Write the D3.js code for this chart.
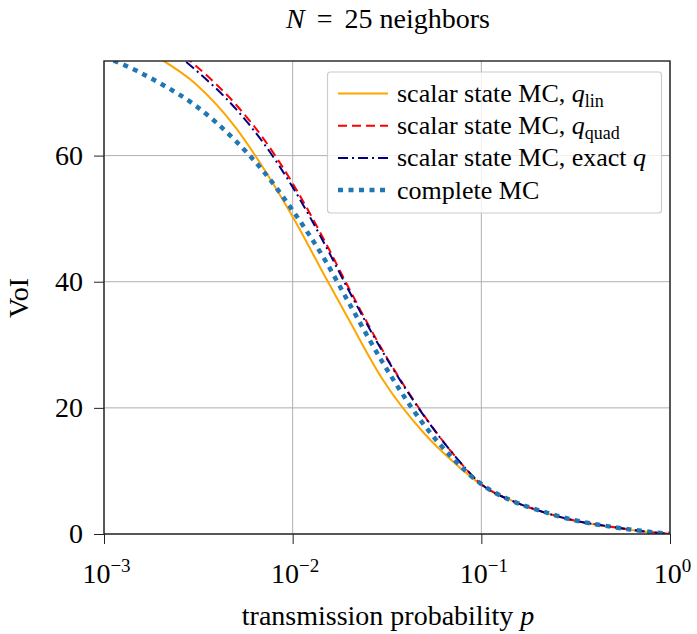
<!DOCTYPE html>
<meta charset="utf-8">
<body style="margin:0;background:#fff">
<div id="div-svg"></div>
<style>
  text { font-family: "Liberation Serif", "Times New Roman", serif; fill: #000; }
  .axis path, .axis line { stroke: #222; }
</style>
<script src="https://cdn.jsdelivr.net/npm/d3@7"></script>
<script>
    var width = 697;
    var height = 634;
    var margin = {left: 104, right: 27, top: 61, bottom: 100};

    // transmission probability p (log axis)
    var pValues = [0.001, 0.0015, 0.002, 0.003, 0.005, 0.007, 0.01, 0.015, 0.02, 0.03,
                   0.05, 0.07, 0.1, 0.15, 0.2, 0.3, 0.5, 0.7, 1.0];
    // VoI
    var voiLin      = [80, 77.5, 75.3, 71.6, 64.4, 58.0, 50.3, 40.6, 33.8, 24.5, 15.9, 11.6, 7.8, 5.1, 3.7, 2.2, 1.05, 0.45, 0];
    var voiQuad     = [84.5, 81.3, 78.7, 74.5, 68.1, 62.7, 55.6, 46.1, 38.8, 29.1, 18.7, 12.9, 7.9, 5.1, 3.75, 2.25, 1.1, 0.47, 0];
    var voiExact    = [83.8, 80.6, 78.0, 73.8, 67.4, 62.0, 55.0, 45.6, 38.4, 28.9, 18.6, 12.9, 7.9, 5.1, 3.75, 2.25, 1.1, 0.47, 0];
    var voiComplete = [75.7, 73.4, 71.4, 68.1, 62.3, 57.5, 51.3, 43.2, 36.5, 27.2, 17.2, 12.1, 7.9, 5.1, 3.8, 2.3, 1.1, 0.5, 0];

    var xTicks = [1e-3, 1e-2, 1e-1, 1];
    var xExponents = ["\u22123", "\u22122", "\u22121", "0"];
    var yTicks = [0, 20, 40, 60];

    var series = [
      {name: "scalar state MC, ", q: "q", sub: "lin", values: voiLin, color: "#ffa500", w: 2, dash: null},
      {name: "scalar state MC, ", q: "q", sub: "quad", values: voiQuad, color: "#ff0000", w: 2, dash: "9,5"},
      {name: "scalar state MC, exact ", q: "q", sub: "", values: voiExact, color: "#000080", w: 2, dash: "10,4,2,4"},
      {name: "complete MC", q: "", sub: "", values: voiComplete, color: "#1f77b4", w: 4.5, dash: "5,5.5"}
    ];

    var svg = d3.select("#div-svg").append("svg")
        .attr("width", width)
        .attr("height", height);

    var x = d3.scaleLog().domain([1e-3, 1]).range([margin.left, width - margin.right]);
    var y = d3.scaleLinear().domain([0, 75]).range([height - margin.bottom, margin.top]);

    // grid
    svg.append("g").selectAll("line").data(xTicks).enter().append("line")
      .attr("x1", function(d){return x(d);}).attr("x2", function(d){return x(d);})
      .attr("y1", y(0)).attr("y2", y(75))
      .attr("stroke", "#b0b0b0").attr("stroke-width", 1);
    svg.append("g").selectAll("line").data(yTicks).enter().append("line")
      .attr("y1", function(d){return y(d);}).attr("y2", function(d){return y(d);})
      .attr("x1", x(1e-3)).attr("x2", x(1))
      .attr("stroke", "#b0b0b0").attr("stroke-width", 1);

    svg.append("clipPath").attr("id", "clip").append("rect")
      .attr("x", x(1e-3)).attr("y", y(75))
      .attr("width", x(1) - x(1e-3)).attr("height", y(0) - y(75));

    var line = d3.line()
      .x(function(d){return x(d[0]);})
      .y(function(d){return y(d[1]);})
      .curve(d3.curveMonotoneX);

    svg.append("g").attr("clip-path", "url(#clip)")
      .selectAll("path").data(series).enter().append("path")
      .attr("d", function(s){return line(pValues.map(function(p, i){return [p, s.values[i]];}));})
      .attr("fill", "none")
      .attr("stroke", function(s){return s.color;})
      .attr("stroke-width", function(s){return s.w;})
      .attr("stroke-dasharray", function(s){return s.dash;});

    // axes
    var xAxis = svg.append("g").attr("class", "axis")
      .attr("transform", "translate(0," + y(0) + ")")
      .call(d3.axisBottom(x).tickValues(xTicks).tickSize(10).tickSizeOuter(0).tickFormat(""));
    xAxis.select(".domain").remove();
    xAxis.selectAll(".tick").each(function(d, i) {
      var t = d3.select(this).append("text")
        .attr("y", 49).attr("text-anchor", "middle")
        .style("font-size", "28px").attr("dx", "2");
      t.append("tspan").text("10");
      t.append("tspan").attr("dy", -11).style("font-size", "19px").text(xExponents[i]);
    });

    var yAxis = svg.append("g").attr("class", "axis")
      .attr("transform", "translate(" + x(1e-3) + ",0)")
      .call(d3.axisLeft(y).tickValues(yTicks).tickSize(10).tickSizeOuter(0).tickPadding(11));
    yAxis.select(".domain").remove();
    yAxis.selectAll("text").style("font-size", "28px").style("font-family", "Liberation Serif");

    // frame
    svg.append("rect")
      .attr("x", x(1e-3)).attr("y", y(75))
      .attr("width", x(1) - x(1e-3)).attr("height", y(0) - y(75))
      .attr("fill", "none").attr("stroke", "#222").attr("stroke-width", 1.4);

    // title
    var title = svg.append("text").attr("x", 388).attr("y", 28)
      .attr("text-anchor", "middle").style("font-size", "28px");
    title.append("tspan").style("font-style", "italic").text("N");
    title.append("tspan").attr("dx", 5).text(" = ");
    title.append("tspan").attr("dx", 5).text("25 neighbors");

    // axis labels
    var xl = svg.append("text").attr("x", 388).attr("y", 625)
      .attr("text-anchor", "middle").style("font-size", "28px");
    xl.append("tspan").text("transmission probability ");
    xl.append("tspan").style("font-style", "italic").text("p");

    svg.append("text")
      .attr("transform", "translate(28,298) rotate(-90)")
      .attr("text-anchor", "middle").style("font-size", "28px").text("VoI");

    // legend
    var lg = svg.append("g");
    lg.append("rect").attr("x", 327.5).attr("y", 72).attr("width", 334).attr("height", 141)
      .attr("rx", 3).attr("fill", "#fff").attr("fill-opacity", 0.8)
      .attr("stroke", "#cccccc").attr("stroke-width", 1.2);
    var rows = lg.selectAll("g.row").data(series).enter().append("g")
      .attr("transform", function(d, i){return "translate(0," + (93.5 + i * 32.2) + ")";});
    rows.append("line").attr("x1", 338).attr("x2", 388).attr("y1", 0).attr("y2", 0)
      .attr("stroke", function(s){return s.color;})
      .attr("stroke-width", function(s){return s.w;})
      .attr("stroke-dasharray", function(s){return s.dash;});
    rows.each(function(s) {
      var t = d3.select(this).append("text").attr("x", 397).attr("y", 8.5).style("font-size", "26px");
      t.append("tspan").text(s.name);
      if (s.q) t.append("tspan").style("font-style", "italic").text(s.q);
      if (s.sub) t.append("tspan").attr("dy", 5).style("font-size", "18px").text(s.sub);
    });
</script>
</body>
